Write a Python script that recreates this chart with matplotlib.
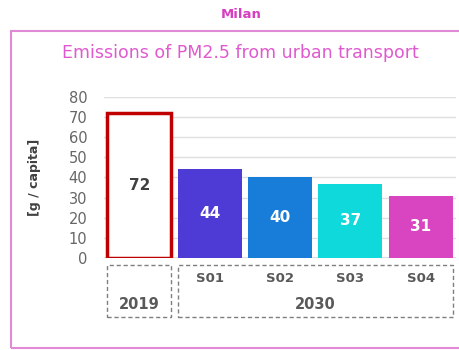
import matplotlib.pyplot as plt
from matplotlib.patches import Rectangle
import matplotlib.transforms as mtransforms

# PM2.5 emissions per capita, Milan
scenarios = ['2019', 'S01', 'S02', 'S03', 'S04']
values = [72, 44, 40, 37, 31]
fill_colors = ['white', '#4E3BD6', '#187DD8', '#0FD9DA', '#D945C1']
edge_colors = ['#C00000', 'none', 'none', 'none', 'none']
label_colors = ['#404040', 'white', 'white', 'white', 'white']
yticks = [0, 10, 20, 30, 40, 50, 60, 70, 80]

plt.rcParams['font.family'] = ['DejaVu Sans']

fig = plt.figure(figsize=(4.59, 3.5), dpi=100)
ax = fig.add_axes([0.2266, 0.2629, 0.767, 0.46])

x = list(range(len(scenarios)))
for i, v in enumerate(values):
    lw = 2.5 if edge_colors[i] != 'none' else 0
    ax.bar(x[i], v, width=0.91, color=fill_colors[i], edgecolor=edge_colors[i],
           linewidth=lw, zorder=3)
    ax.text(x[i], v / 2, str(v), ha='center', va='center',
            fontsize=11, fontweight='bold', color=label_colors[i], zorder=4)

ax.set_xlim(-0.5, 4.5)
ax.set_ylim(0, 80)
ax.set_yticks(yticks)
ax.set_xticks([])
ax.tick_params(axis='y', length=0, labelsize=10.5, labelcolor='#666666', pad=12)
ax.grid(axis='y', color='#e0e0e0', linewidth=1, zorder=0)
for s in ax.spines.values():
    s.set_visible(False)
ax.axhline(0, color='#d9d9d9', linewidth=1.2, zorder=2)

ax.set_ylabel('[g / capita]', fontsize=9, fontweight='bold', color='#404040', labelpad=20)

# category boxes under the bars
trans = mtransforms.blended_transform_factory(ax.transData, ax.transAxes)
box_kw = dict(fill=False, edgecolor='#7f7f7f', linestyle=(0, (3, 2)), linewidth=1,
              transform=trans, clip_on=False)
ax.add_patch(Rectangle((-0.455, -0.366), 0.91, 0.323, **box_kw))
ax.add_patch(Rectangle((0.545, -0.366), 3.91, 0.323, **box_kw))
for i in x[1:]:
    ax.text(i, -0.13, scenarios[i], transform=trans, ha='center', va='center',
            fontsize=9.5, fontweight='bold', color='#595959')
ax.text(0, -0.286, '2019', transform=trans, ha='center', va='center',
        fontsize=10.5, fontweight='bold', color='#595959')
ax.text(2.5, -0.286, '2030', transform=trans, ha='center', va='center',
        fontsize=10.5, fontweight='bold', color='#595959')

# outer frame and titles
fig.patches.append(Rectangle((11 / 459, 2 / 350), 1.0, 1 - 33 / 350, fill=False,
                             edgecolor='#E08AD6', linewidth=1.5,
                             transform=fig.transFigure, figure=fig))
fig.text(241 / 459, 1 - 15 / 350, 'Milan', ha='center', va='center',
         fontsize=9.5, fontweight='bold', color='#D63FC0')
fig.text(240 / 459, 1 - 53 / 350, 'Emissions of PM2.5 from urban transport',
         ha='center', va='center', fontsize=12.5, color='#E05ACF')

fig.savefig('out.png', dpi=100)
